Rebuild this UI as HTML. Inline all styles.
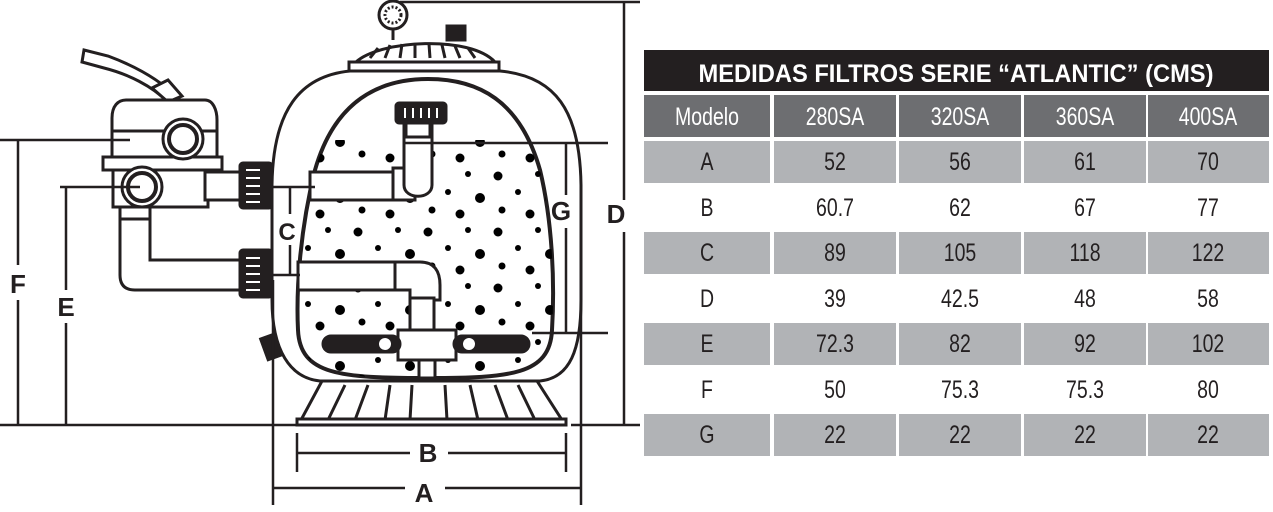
<!DOCTYPE html>
<html><head><meta charset="utf-8"><style>
html,body{margin:0;padding:0;background:#fff;width:1273px;height:512px;overflow:hidden}
svg{display:block}
.t{font-family:"Liberation Sans",sans-serif;font-size:25px;fill:#231f20;text-anchor:middle}
.h{fill:#fff}
.L{font-family:"Liberation Sans",sans-serif;font-weight:bold;font-size:26px;fill:#231f20;text-anchor:middle}
</style></head><body>
<svg width="1273" height="512" viewBox="0 0 1273 512" xmlns="http://www.w3.org/2000/svg">
<defs>
<pattern id="dots" x="0" y="0" width="70" height="56" patternUnits="userSpaceOnUse">
<circle cx="8" cy="8" r="4.5"/><circle cx="48" cy="6" r="3"/>
<circle cx="28" cy="24" r="3"/><circle cx="60" cy="30" r="5"/>
<circle cx="12" cy="42" r="3.5"/><circle cx="40" cy="46" r="4.5"/>
</pattern>
<clipPath id="egg"><path d="M428 79 C380 79,335 100,315 170 C300 230,296 290,298 330 C300 375,340 378,428 378 C510 378,550 375,552 330 C555 280,552 220,540 170 C520 100,478 79,428 79 Z"/></clipPath>
</defs>
<g stroke="#231f20" stroke-width="3" fill="#fff">
<line x1="393" y1="30" x2="393" y2="40"/>
<circle cx="393" cy="15" r="14"/>
<circle cx="393" cy="15" r="8" stroke-dasharray="2 2"/>
<rect x="447" y="26" width="18" height="14" fill="#231f20"/>
<path d="M356 62 C380 40,470 35,495 62 Z"/>
<path d="M370 58 l8 -10 M385 58 l5 -13 M400 58 l2 -14 M415 58 l0 -14 M430 58 l-1 -14 M445 58 l-3 -13 M460 58 l-5 -12 M475 58 l-7 -10" stroke-width="3"/>
<rect x="349" y="62" width="150" height="9"/>
<path d="M350 71 C300 76,273 110,272 185 L272 300 C272 350,290 378,320 381 L540 381 C570 378,581 350,581 300 L581 185 C580 110,555 76,500 71 Z"/>
<path d="M428 79 C380 79,335 100,315 170 C300 230,296 290,298 330 C300 375,340 378,428 378 C510 378,550 375,552 330 C555 280,552 220,540 170 C520 100,478 79,428 79 Z" stroke-width="4"/>
</g>
<rect x="290" y="140" width="270" height="240" fill="url(#dots)" clip-path="url(#egg)"/>
<g stroke="#231f20" stroke-width="3" fill="#fff">
<rect x="310" y="172" width="90" height="28"/>
<rect x="393" y="168" width="22" height="32"/>
<path d="M404 125 L432 125 L432 185 C432 200,404 200,404 185 Z"/>
<rect x="406" y="123" width="24" height="14"/>
<rect x="396" y="103" width="50" height="20" rx="3" fill="#231f20"/>
<path d="M405 108v10M413 108v10M421 108v10M429 108v10M437 108v10" stroke="#fff" stroke-width="2"/>
<rect x="298" y="262" width="98" height="28"/>
<path d="M395 262 L420 262 C435 262,440 272,440 285 L440 300 L410 300 L410 290 L395 290 Z"/>
<rect x="410" y="298" width="24" height="34"/>
<rect x="398" y="330" width="58" height="30"/>
<rect x="323" y="336" width="77" height="16" rx="8" fill="#231f20"/>
<rect x="454" y="336" width="75" height="16" rx="8" fill="#231f20"/>
<circle cx="385" cy="344" r="6" stroke="none"/><circle cx="469" cy="344" r="6" stroke="none"/>
<rect x="419" y="360" width="16" height="18"/>
<path d="M322 381 L537 381 L562 420 L301 420 Z"/>
<path d="M345 385 L328 420 M368 385 L355 420 M390 385 L385 420 M412 385 L410 420 M445 385 L447 420 M470 385 L478 420 M495 385 L508 420 M518 385 L535 420" />
<rect x="297" y="419" width="269" height="6"/>
<rect x="264" y="336" width="14" height="22" transform="rotate(-20 271 347)" fill="#231f20"/>
<path d="M84 50 L108 56 C135 66,160 80,178 98 L168 102 C152 86,128 74,104 68 L82 62 Z"/>
<path d="M152 88 L168 80 L182 96 L168 102 Z"/>
<path d="M112 157 L112 118 C112 106,118 100,126 100 L205 100 C213 100,217 110,217 120 L217 157 Z"/>
<line x1="112" y1="131" x2="217" y2="131"/>
<rect x="103" y="157" width="119" height="13"/>
<rect x="113" y="170" width="95" height="37"/>
<rect x="205" y="172" width="40" height="28"/>
<rect x="240" y="163" width="32" height="45" rx="3" fill="#231f20"/>
<path d="M246 170h14M246 178h14M246 186h14M246 194h14M246 202h14" stroke="#fff" stroke-width="2"/>
<circle cx="183" cy="139" r="20"/><circle cx="183" cy="139" r="14" stroke-width="4"/>
<circle cx="142" cy="187" r="20"/><circle cx="142" cy="187" r="14" stroke-width="4"/>
<path d="M120 207 L150 207 L150 260 L245 260 L245 290 L135 290 C125 290,120 285,120 275 Z"/>
<rect x="120" y="207" width="30" height="12"/>
<rect x="240" y="250" width="32" height="47" rx="3" fill="#231f20"/>
<path d="M246 258h14M246 266h14M246 274h14M246 282h14M246 290h14" stroke="#fff" stroke-width="2"/>
</g>
<g stroke="#231f20" stroke-width="2.5" fill="none">
<line x1="0" y1="425" x2="296" y2="425"/><line x1="571" y1="425" x2="640" y2="425"/>
<line x1="400" y1="2" x2="640" y2="2"/>
<line x1="624" y1="2" x2="624" y2="200"/><line x1="624" y1="232" x2="624" y2="425"/>
<line x1="0" y1="140" x2="130" y2="140"/>
<line x1="18" y1="140" x2="18" y2="265"/><line x1="18" y1="300" x2="18" y2="425"/>
<line x1="60" y1="187" x2="140" y2="187"/>
<line x1="66" y1="187" x2="66" y2="290"/><line x1="66" y1="323" x2="66" y2="425"/>
<line x1="403" y1="143" x2="608" y2="143"/><line x1="532" y1="333" x2="608" y2="333"/>
<line x1="566" y1="143" x2="566" y2="195"/><line x1="566" y1="228" x2="566" y2="333"/>
<line x1="272" y1="187" x2="315" y2="187"/><line x1="272" y1="275" x2="300" y2="275"/>
<line x1="290" y1="187" x2="290" y2="214"/><line x1="290" y1="245" x2="290" y2="275"/>
<line x1="297" y1="433" x2="297" y2="472"/><line x1="566" y1="433" x2="566" y2="472"/>
<line x1="297" y1="453" x2="410" y2="453"/><line x1="448" y1="453" x2="566" y2="453"/>
<line x1="273" y1="280" x2="273" y2="505"/><line x1="581" y1="280" x2="581" y2="505"/>
<line x1="273" y1="488" x2="405" y2="488"/><line x1="445" y1="488" x2="581" y2="488"/>
</g>
<g class="L"><text x="616" y="223">D</text><text x="18" y="293">F</text><text x="66" y="316">E</text><text x="561" y="220">G</text><text x="287" y="240" font-size="24">C</text><text x="428" y="462">B</text><text x="424" y="502">A</text></g>
<rect x="644" y="50" width="625" height="41" fill="#231f20"/>
<text x="956" y="82" class="t h" font-weight="bold" font-size="30" textLength="515" lengthAdjust="spacingAndGlyphs">MEDIDAS FILTROS SERIE “ATLANTIC”  (CMS)</text>
<g fill="#6d6e71">
<rect x="644" y="95" width="126" height="42"/><rect x="774" y="95" width="122" height="42"/><rect x="899" y="95" width="122" height="42"/><rect x="1024" y="95" width="122" height="42"/><rect x="1148" y="95" width="121" height="42"/>
</g>
<g fill="#b1b3b6">
<rect x="644" y="141" width="126" height="42"/><rect x="774" y="141" width="122" height="42"/><rect x="899" y="141" width="122" height="42"/><rect x="1024" y="141" width="122" height="42"/><rect x="1148" y="141" width="121" height="42"/>
<rect x="644" y="232" width="126" height="42"/><rect x="774" y="232" width="122" height="42"/><rect x="899" y="232" width="122" height="42"/><rect x="1024" y="232" width="122" height="42"/><rect x="1148" y="232" width="121" height="42"/>
<rect x="644" y="323" width="126" height="42"/><rect x="774" y="323" width="122" height="42"/><rect x="899" y="323" width="122" height="42"/><rect x="1024" y="323" width="122" height="42"/><rect x="1148" y="323" width="121" height="42"/>
<rect x="644" y="414" width="126" height="42"/><rect x="774" y="414" width="122" height="42"/><rect x="899" y="414" width="122" height="42"/><rect x="1024" y="414" width="122" height="42"/><rect x="1148" y="414" width="121" height="42"/>
</g>
<g transform="translate(707 0) scale(0.78 1)" class="t">
<text x="0" y="125" class="t h">Modelo</text><text x="0" y="170">A</text><text x="0" y="216">B</text><text x="0" y="261">C</text><text x="0" y="307">D</text><text x="0" y="352">E</text><text x="0" y="398">F</text><text x="0" y="443">G</text>
</g>
<g transform="translate(835 0) scale(0.78 1)" class="t">
<text x="0" y="125" class="t h">280SA</text><text x="0" y="170">52</text><text x="0" y="216">60.7</text><text x="0" y="261">89</text><text x="0" y="307">39</text><text x="0" y="352">72.3</text><text x="0" y="398">50</text><text x="0" y="443">22</text>
</g>
<g transform="translate(960 0) scale(0.78 1)" class="t">
<text x="0" y="125" class="t h">320SA</text><text x="0" y="170">56</text><text x="0" y="216">62</text><text x="0" y="261">105</text><text x="0" y="307">42.5</text><text x="0" y="352">82</text><text x="0" y="398">75.3</text><text x="0" y="443">22</text>
</g>
<g transform="translate(1085 0) scale(0.78 1)" class="t">
<text x="0" y="125" class="t h">360SA</text><text x="0" y="170">61</text><text x="0" y="216">67</text><text x="0" y="261">118</text><text x="0" y="307">48</text><text x="0" y="352">92</text><text x="0" y="398">75.3</text><text x="0" y="443">22</text>
</g>
<g transform="translate(1208 0) scale(0.78 1)" class="t">
<text x="0" y="125" class="t h">400SA</text><text x="0" y="170">70</text><text x="0" y="216">77</text><text x="0" y="261">122</text><text x="0" y="307">58</text><text x="0" y="352">102</text><text x="0" y="398">80</text><text x="0" y="443">22</text>
</g>
</svg>
</body></html>
